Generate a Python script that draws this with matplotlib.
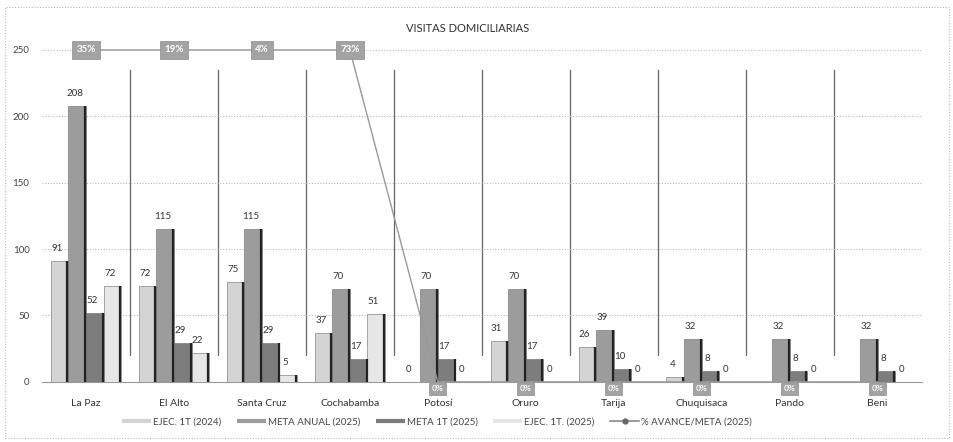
import numpy as np
import matplotlib
matplotlib.use("Agg")
import matplotlib.pyplot as plt
from matplotlib.lines import Line2D
from matplotlib.patches import Rectangle

plt.rcParams['font.family'] = ['Lato', 'DejaVu Sans']

regiones = ["La Paz", "El Alto", "Santa Cruz", "Cochabamba", "Potosí",
            "Oruro", "Tarija", "Chuquisaca", "Pando", "Beni"]
ejec_2024 = [91, 72, 75, 37, 0, 31, 26, 4, np.nan, np.nan]
meta_anual_2025 = [208, 115, 115, 70, 70, 70, 39, 32, 32, 32]
meta_1t_2025 = [52, 29, 29, 17, 17, 17, 10, 8, 8, 8]
ejec_1t_2025 = [72, 22, 5, 51, 0, 0, 0, 0, 0, 0]
avance_pct = [35, 19, 4, 73, 0, 0, 0, 0, 0, 0]
pct_tope = 4  # the % axis tops out here, higher values sit on the top edge

series = [
    ("EJEC. 1T (2024)", ejec_2024, "#d4d4d4"),
    ("META ANUAL (2025)", meta_anual_2025, "#9c9c9c"),
    ("META 1T (2025)", meta_1t_2025, "#7d7d7d"),
    ("EJEC. 1T. (2025)", ejec_1t_2025, "#e6e6e6"),
]

fig = plt.figure(figsize=(9.54, 4.42), dpi=100)
ax = fig.add_axes([0.044, 0.136, 0.922, 0.751])

x = np.arange(len(regiones))
w = 0.2
for i, (name, vals, col) in enumerate(series):
    pos = x + (i - 1.5) * w
    v = np.nan_to_num(np.array(vals, dtype=float))
    ax.bar(pos, v, width=w, color=col, edgecolor="#6a6a6a", linewidth=0.4, zorder=3)
    # dark right edge like the 3D look of the original
    ax.vlines(pos + w / 2 - 0.01, 0, v, color="#222222", linewidth=1.6, zorder=4)
    for p, val in zip(pos, vals):
        if np.isnan(val):
            continue
        ax.text(p - 0.03, val + 6, f"{int(val)}", ha="center", va="bottom",
                fontsize=7, color="#333333", zorder=5)

ax.set_xlim(-0.5, len(regiones) - 0.5)
ax.set_ylim(0, 250)
ax.set_yticks([0, 50, 100, 150, 200, 250])
ax.tick_params(axis="y", labelsize=7, colors="#444444", length=0, pad=9)
ax.set_xticks(x)
ax.set_xticklabels(regiones, fontsize=7.5, color="#333333")
ax.tick_params(axis="x", length=0, pad=12)
ax.grid(axis="y", linestyle=(0, (1, 1.5)), color="#bbbbbb", linewidth=0.8, zorder=0)
for s in ["top", "right", "left"]:
    ax.spines[s].set_visible(False)
ax.spines["bottom"].set_color("#999999")

# separators between regions
for b in x[:-1] + 0.5:
    ax.axvline(b, ymin=0.08, ymax=0.94, color="#666666", linewidth=0.9, zorder=1)

# % avance / meta on a secondary axis
ax2 = ax.twinx()
ax2.set_ylim(0, pct_tope)
ax2.axis("off")
pct_plot = np.minimum(avance_pct, pct_tope)
ax2.plot(x, pct_plot, color="#999999", linewidth=1.0, zorder=6, clip_on=False)
for xi, yi, p in zip(x, pct_plot, avance_pct):
    if p > 0:
        off, fs, pad = 0, 7, 0.45
    else:
        off, fs, pad = -5, 6, 0.3
    ax2.annotate(f"{p}%", (xi, yi), xytext=(0, off), textcoords="offset points",
                 ha="center", va="center", fontsize=fs, color="white",
                 fontweight="bold", annotation_clip=False,
                 bbox=dict(boxstyle=f"square,pad={pad}", fc="#a3a3a3", ec="#8c8c8c", lw=0.5),
                 zorder=7)

fig.text(0.49, 0.935, "VISITAS DOMICILIARIAS", ha="center", va="center",
         fontsize=8, color="#333333")

handles = [Line2D([0], [0], color=c, linewidth=3, solid_capstyle="butt") for _, _, c in series]
handles.append(Line2D([0], [0], color="#8a8a8a", linewidth=1.2, marker="o",
                      markersize=3.5, markerfacecolor="#666666", markeredgecolor="#666666"))
labels = [s[0] for s in series] + ["% AVANCE/META (2025)"]
fig.legend(handles, labels, loc="center", bbox_to_anchor=(0.458, 0.045), ncol=5,
           frameon=False, fontsize=7, handlelength=3.0, handletextpad=0.2,
           columnspacing=1.6, labelcolor="#444444")

fig.patches.append(Rectangle((0.005, 0.01), 0.99, 0.975, transform=fig.transFigure,
                             fill=False, edgecolor="#bbbbbb", linewidth=0.8,
                             linestyle=(0, (1, 1.5))))

fig.savefig("out.png", dpi=100)
